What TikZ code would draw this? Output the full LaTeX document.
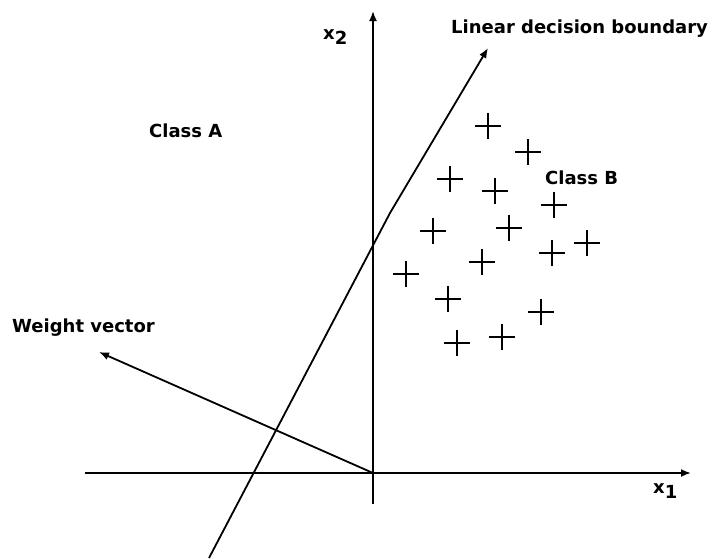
\documentclass[tikz,border=0pt]{standalone}
\usepackage{fontspec}
\setmainfont{DejaVu Sans}
\usetikzlibrary{arrows.meta}
\tikzset{
  lbl/.style={font=\bfseries\fontsize{18}{21}\selectfont, inner sep=0pt},
  axis/.style={line width=1.8pt, -{Latex[length=10pt,width=8pt]}},
  plus/.style={line width=1.7pt}
}
\begin{document}
\begin{tikzpicture}[x=1pt,y=-1pt]
\useasboundingbox (0,0) rectangle (716,558);
% axes
\coordinate (o) at (373,473);
\coordinate (xl) at (85,473);
\coordinate (xr) at (691,473);
\coordinate (yb) at (373,504);
\coordinate (yt) at (373,11);
\draw[axis] (xl) -- (xr);
\draw[axis] (yb) -- (yt);
% decision boundary
\coordinate (db0) at (209,558);
\coordinate (db1) at (390,213);
\coordinate (db2) at (488,48);
\draw[axis] (db0) -- (db1) -- (db2);
\node[lbl, anchor=west] (dbl) at (451,29) {Linear decision boundary};
% weight vector
\coordinate (w) at (99,352);
\draw[axis] (o) -- (w);
\node[lbl, anchor=west] (wl) at (12,328) {Weight vector};
% labels
\node[lbl, anchor=west] (x1) at (653,491) {x\raisebox{-0.45ex}{1}};
\node[lbl, anchor=west] (x2) at (323,37) {x\raisebox{-0.45ex}{2}};
\node[lbl, anchor=west] (ca) at (149,131) {Class A};
\node[lbl, anchor=west] (cb) at (545,178) {Class B};
% class B samples
\foreach \px/\py in {488/126, 528/152, 450/179, 495/191, 554/205, 433/231,
  509/228, 587/243, 552/253, 482/262, 406/274, 448/299, 541/312, 457/343, 502/337}
  \draw[plus] (\px-13,\py) -- (\px+13,\py) (\px,\py-13) -- (\px,\py+13);
\end{tikzpicture}
\end{document}
